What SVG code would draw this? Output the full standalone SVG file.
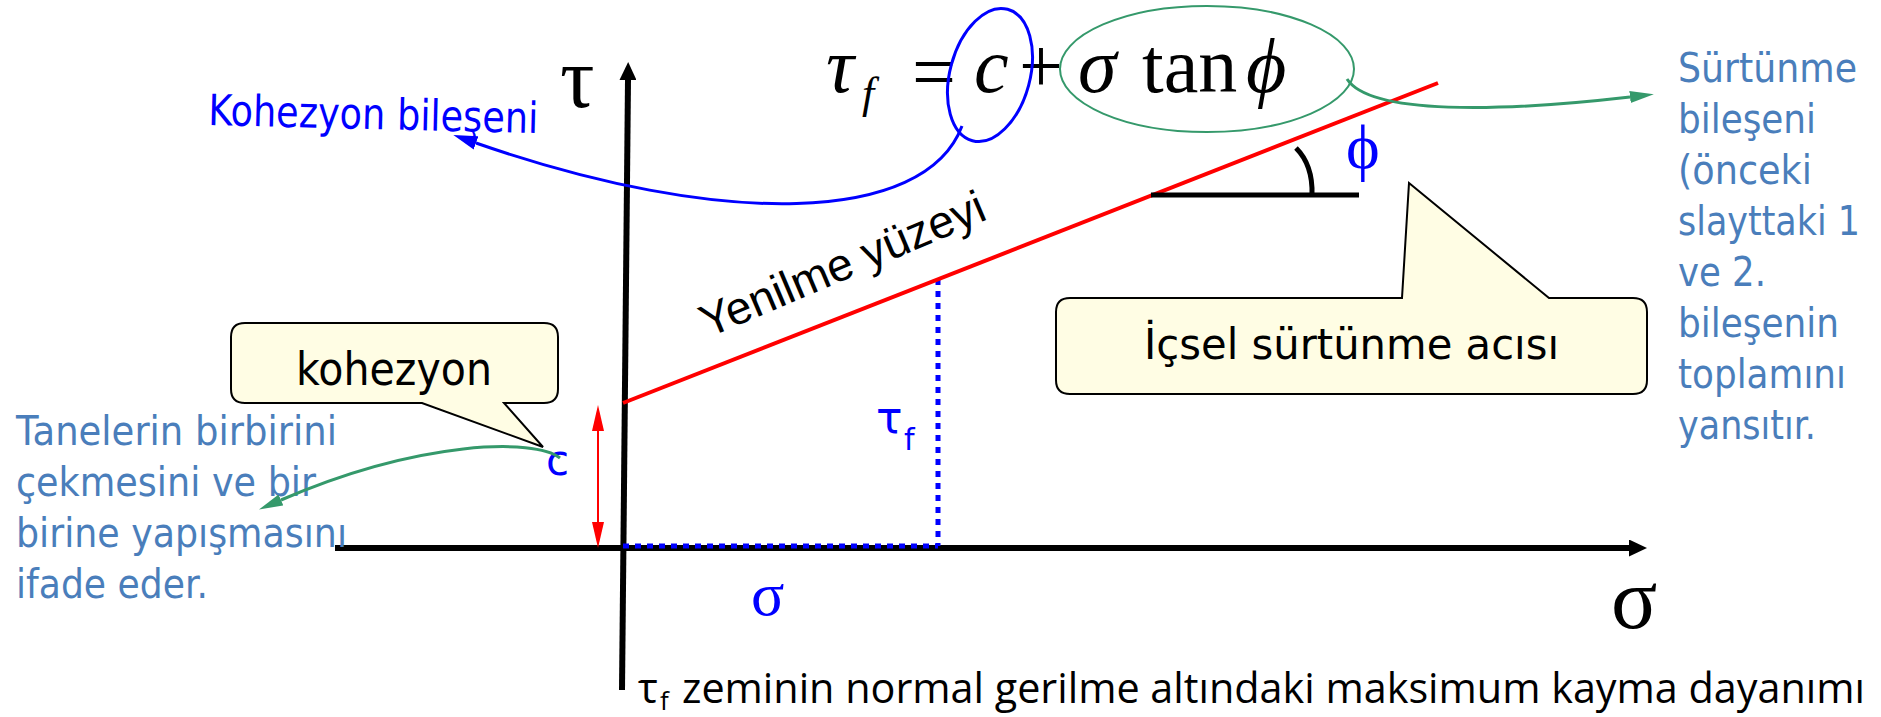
<svg xmlns="http://www.w3.org/2000/svg" width="1881" height="717" viewBox="0 0 1881 717">
<style>
  .tah { font-family: "DejaVu Sans", "Liberation Sans", sans-serif; }
  .note { font-family: "DejaVu Sans", "Liberation Sans", sans-serif; font-size: 40px; fill: #4a7ebb; }
  .math { font-family: "Liberation Serif", "DejaVu Serif", serif; }
  .callout { fill: #fffde4; stroke: #000; stroke-width: 2; stroke-linejoin: miter; }
  .axis { stroke: #000; stroke-width: 6; fill: none; }
  .dot { stroke: #0000ff; stroke-width: 5; stroke-dasharray: 6 6; fill: none; }
</style>
<defs>
  <marker id="ahK" markerUnits="userSpaceOnUse" viewBox="0 -8.5 18 17" markerWidth="18" markerHeight="17" refX="0" refY="0" orient="auto">
    <path d="M0,-8.5 L18,0 L0,8.5 Z" fill="#000"/>
  </marker>
  <marker id="ahR" markerUnits="userSpaceOnUse" viewBox="0 -6 26 12" markerWidth="26" markerHeight="12" refX="0" refY="0" orient="auto-start-reverse">
    <path d="M0,-6 L26,0 L0,6 Z" fill="#ff0000"/>
  </marker>
  <marker id="ahB" markerUnits="userSpaceOnUse" viewBox="0 -7 24 14" markerWidth="24" markerHeight="14" refX="0" refY="0" orient="auto">
    <path d="M0,-7 L24,0 L0,7 Z" fill="#0000ff"/>
  </marker>
  <marker id="ahG" markerUnits="userSpaceOnUse" viewBox="0 -6 24 12" markerWidth="24" markerHeight="12" refX="0" refY="0" orient="auto">
    <path d="M0,-6 L24,0 L0,6 Z" fill="#35996b"/>
  </marker>
</defs>
<rect width="1881" height="717" fill="#ffffff"/>

<g id="axes">
  <line class="axis" x1="335" y1="548" x2="1629" y2="548" marker-end="url(#ahK)"/>
  <line class="axis" x1="622" y1="690" x2="628" y2="80" marker-end="url(#ahK)"/>
  <text class="math" x="560" y="107" font-size="86">τ</text>
  <text class="math" x="1611" y="628" font-size="86">σ</text>
</g>

<g id="stress-guides">
  <line class="dot" x1="623" y1="546" x2="938" y2="546"/>
  <line class="dot" x1="938" y1="279" x2="938" y2="546"/>
  <text class="math" x="751" y="615" font-size="62" fill="#0000ff">σ</text>
  <text class="tah" x="876" y="433" font-size="44" fill="#0000ff">τ<tspan x="904" y="450" font-size="30">f</tspan></text>
</g>

<g id="failure-envelope">
  <line x1="623" y1="403" x2="1438" y2="83" stroke="#ff0000" stroke-width="4"/>
  <text transform="translate(708,338) rotate(-23)" font-family="Liberation Sans, Arial, sans-serif" font-size="46" fill="#000">Yenilme yüzeyi</text>
</g>

<g id="angle-phi">
  <line x1="1151" y1="195" x2="1359" y2="195" stroke="#000" stroke-width="5"/>
  <path d="M1296,148 Q1313,165 1312,195" stroke="#000" stroke-width="5" fill="none"/>
  <text class="math" x="1346" y="168" font-size="64" fill="#0000ff">ϕ</text>
</g>

<g id="formula">
  <text class="math" font-size="78" fill="#000">
    <tspan x="826" y="92" font-style="italic">τ</tspan>
    <tspan x="862" y="108" font-size="44" font-style="italic">f</tspan>
    <tspan x="912" y="98">=</tspan>
    <tspan x="974" y="92" font-style="italic">c</tspan>
    <tspan x="1019" y="92">+</tspan>
    <tspan x="1078" y="92" font-style="italic">σ</tspan>
    <tspan x="1142" y="92">tan</tspan>
    <tspan x="1246" y="92" font-style="italic">ϕ</tspan>
  </text>
  <ellipse cx="990" cy="75" rx="40" ry="68" transform="rotate(15 990 75)" fill="none" stroke="#0000ff" stroke-width="3"/>
  <ellipse cx="1207" cy="69" rx="147" ry="63" fill="none" stroke="#35996b" stroke-width="2"/>
</g>

<g id="kohezyon-callout">
  <path class="callout" d="M245,323 H544 Q558,323 558,337 V389 Q558,403 544,403 H504 L543,447 L422,403 H245 Q231,403 231,389 V337 Q231,323 245,323 Z"/>
  <text class="tah" x="296" y="385" font-size="46" fill="#000" textLength="196" lengthAdjust="spacingAndGlyphs">kohezyon</text>
</g>

<g id="c-intercept">
  <line x1="598" y1="431" x2="598" y2="522" stroke="#ff0000" stroke-width="2" marker-start="url(#ahR)" marker-end="url(#ahR)"/>
  <text class="tah" x="546" y="475" font-size="42" fill="#0000ff">c</text>
</g>

<g id="icsel-callout">
  <path class="callout" d="M1070,298 H1402 L1409,183 L1549,298 H1633 Q1647,298 1647,312 V380 Q1647,394 1633,394 H1070 Q1056,394 1056,380 V312 Q1056,298 1070,298 Z"/>
  <text class="tah" x="1144" y="359" font-size="43" fill="#000" textLength="415" lengthAdjust="spacingAndGlyphs">İçsel sürtünme acısı</text>
</g>

<g id="kohezyon-bileseni">
  <text class="tah" x="208" y="125" font-size="43" fill="#0000ff" transform="rotate(1.4 208 125)" textLength="330" lengthAdjust="spacingAndGlyphs">Kohezyon bileşeni</text>
</g>

<g id="left-note">
  <text class="note" x="16" y="445" textLength="321" lengthAdjust="spacingAndGlyphs">Tanelerin birbirini</text>
  <text class="note" x="16" y="496" textLength="300" lengthAdjust="spacingAndGlyphs">çekmesini ve bir</text>
  <text class="note" x="16" y="547" textLength="331" lengthAdjust="spacingAndGlyphs">birine yapışmasını</text>
  <text class="note" x="16" y="598" textLength="192" lengthAdjust="spacingAndGlyphs">ifade eder.</text>
</g>

<g id="right-note">
  <text class="note" x="1678" y="82" textLength="179" lengthAdjust="spacingAndGlyphs">Sürtünme</text>
  <text class="note" x="1678" y="133" textLength="138" lengthAdjust="spacingAndGlyphs">bileşeni</text>
  <text class="note" x="1678" y="184" textLength="134" lengthAdjust="spacingAndGlyphs">(önceki</text>
  <text class="note" x="1678" y="235" textLength="182" lengthAdjust="spacingAndGlyphs">slayttaki 1</text>
  <text class="note" x="1678" y="286" textLength="88" lengthAdjust="spacingAndGlyphs">ve 2.</text>
  <text class="note" x="1678" y="337" textLength="161" lengthAdjust="spacingAndGlyphs">bileşenin</text>
  <text class="note" x="1678" y="388" textLength="168" lengthAdjust="spacingAndGlyphs">toplamını</text>
  <text class="note" x="1678" y="439" textLength="138" lengthAdjust="spacingAndGlyphs">yansıtır.</text>
</g>

<g id="caption">
  <text font-family="Open Sans, Noto Sans, sans-serif" font-size="42" fill="#000">
    <tspan x="638" y="703">τ</tspan><tspan x="660" y="710" font-size="26">f</tspan>
    <tspan x="682" y="703" textLength="1183" lengthAdjust="spacingAndGlyphs">zeminin normal gerilme altındaki maksimum kayma dayanımı</tspan>
  </text>
</g>

<g id="connectors">
  <path d="M962,126 C925,225 720,228 476,143" fill="none" stroke="#0000ff" stroke-width="3" marker-end="url(#ahB)"/>
  <path d="M1347,79 C1370,115 1500,112 1630,97" fill="none" stroke="#35996b" stroke-width="3" marker-end="url(#ahG)"/>
  <path d="M560,458 C535,438 420,440 281,500" fill="none" stroke="#35996b" stroke-width="3" marker-end="url(#ahG)"/>
</g>
</svg>
